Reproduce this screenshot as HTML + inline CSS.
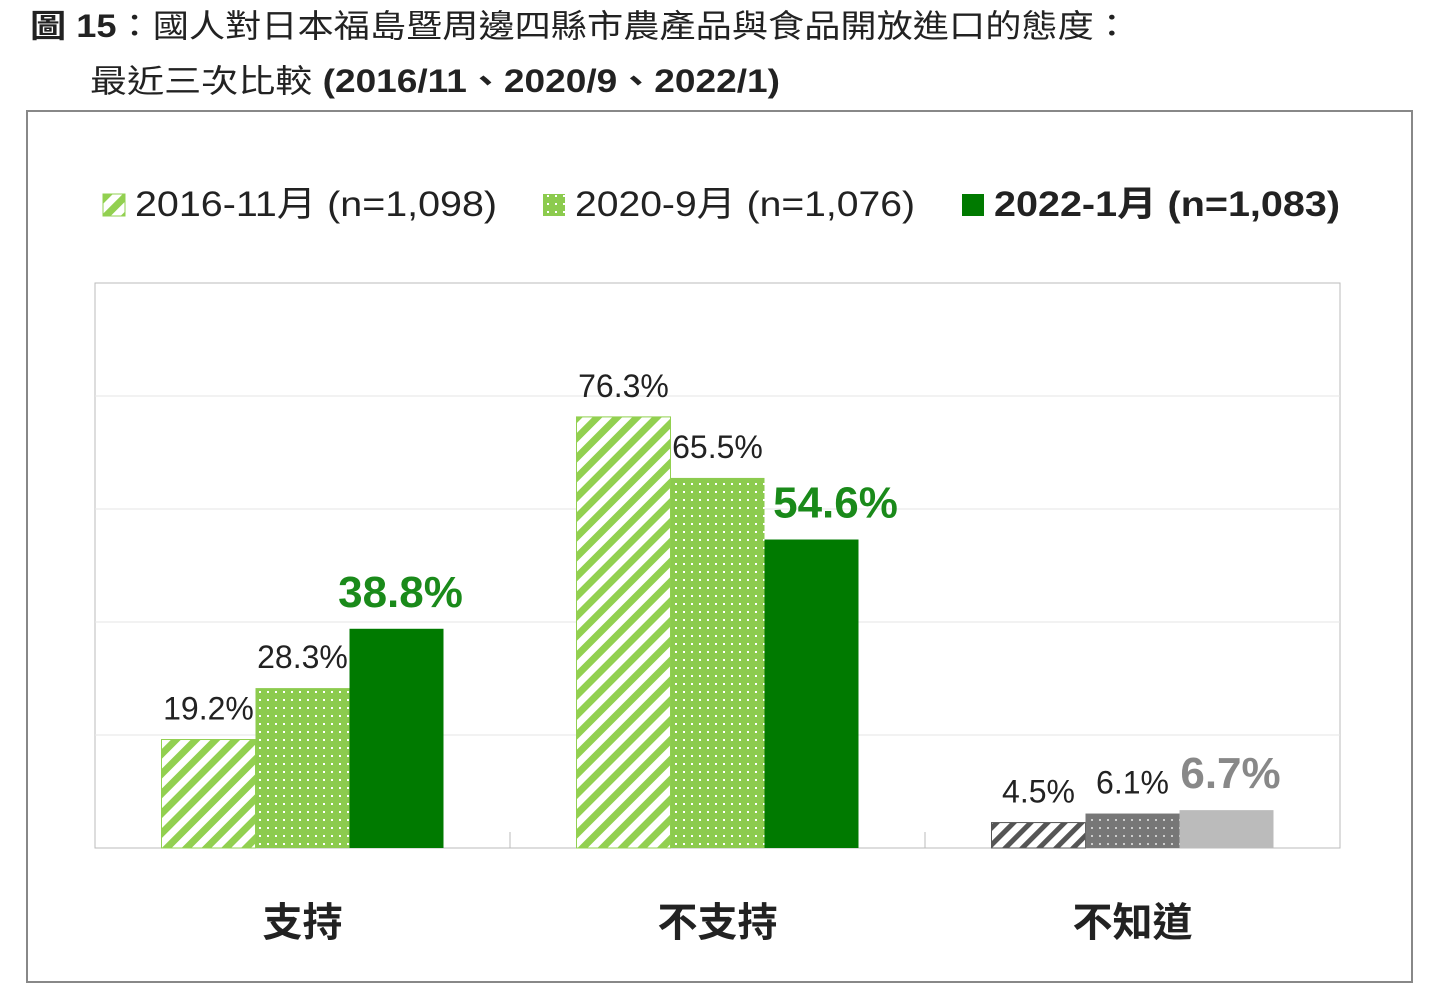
<!DOCTYPE html>
<html><head><meta charset="utf-8"><style>
body{margin:0;background:#fff;width:1434px;height:986px;overflow:hidden;font-family:"Liberation Sans","Noto Sans CJK TC",sans-serif;}
</style></head><body>
<svg width="1434" height="986" xmlns="http://www.w3.org/2000/svg">
<defs>
<pattern id="hg" patternUnits="userSpaceOnUse" width="14" height="14" patternTransform="rotate(45)"><rect width="14" height="14" fill="#fff"/><rect width="7" height="14" fill="#92D050"/></pattern>
<pattern id="dg" patternUnits="userSpaceOnUse" width="8" height="8"><rect width="8" height="8" fill="#8CCB4E"/><rect x="3" y="3" width="2" height="2" fill="#fff"/></pattern>
<pattern id="hk" patternUnits="userSpaceOnUse" width="12" height="12" patternTransform="rotate(45)"><rect width="12" height="12" fill="#fff"/><rect width="5" height="12" fill="#555"/></pattern>
<pattern id="dk" patternUnits="userSpaceOnUse" width="8" height="8"><rect width="8" height="8" fill="#777"/><rect x="3" y="3" width="2" height="2" fill="#ccc"/></pattern>
</defs>
<text x="30" y="37" font-size="32" fill="#222" textLength="1100" lengthAdjust="spacingAndGlyphs"><tspan font-weight="bold">圖 15</tspan>：國人對日本福島暨周邊四縣市農產品與食品開放進口的態度：</text>
<text x="90" y="92" font-size="32" fill="#222" textLength="690" lengthAdjust="spacingAndGlyphs">最近三次比較 <tspan font-weight="bold">(2016/11、2020/9、2022/1)</tspan></text>
<rect x="27" y="111" width="1385" height="871" fill="none" stroke="#888" stroke-width="2"/>
<g>
<rect x="103" y="194" width="22" height="22" fill="url(#hg)" stroke="#92D050"/>
<text x="135" y="216" font-size="35" fill="#222" textLength="362" lengthAdjust="spacingAndGlyphs">2016-11月  (n=1,098)</text>
<rect x="543" y="194" width="22" height="22" fill="url(#dg)"/>
<text x="575" y="216" font-size="35" fill="#222" textLength="340" lengthAdjust="spacingAndGlyphs">2020-9月  (n=1,076)</text>
<rect x="962" y="194" width="22" height="22" fill="#007A00"/>
<text x="994" y="216" font-size="35" font-weight="bold" fill="#222" textLength="346" lengthAdjust="spacingAndGlyphs">2022-1月  (n=1,083)</text>
</g>
<rect x="95" y="283" width="1245" height="565" fill="none" stroke="#bbb"/>
<g id="grid"></g><g id="bars"></g>
</svg>
<script>
const categories=["支持","不支持","不知道"];
const s2016=[19.2,76.3,4.5];
const s2020=[28.3,65.5,6.1];
const s2022=[38.8,54.6,6.7];
const gridTicks=[20,40,60,80];
const NS="http://www.w3.org/2000/svg";
const svg=document.querySelector('svg');
const X0=95,W=1245,Y0=848,H=565;
const y=v=>Y0-v/100*H;
const cw=W/categories.length;
function mk(t,a,p){const e=document.createElementNS(NS,t);for(const k in a)e.setAttribute(k,a[k]);(p||svg).appendChild(e);return e;}
const g=document.getElementById('grid'),b=document.getElementById('bars');
gridTicks.forEach(t=>{const l=mk('line',{x1:X0,x2:X0+W,y1:y(t),y2:y(t),stroke:'#e6e6e6'},g);

});
const series=[s2016,s2020,s2022];
const bw=94;
categories.forEach((c,i)=>{
 const cx=X0+cw*(i+0.5);
 if(i>0){const tk=mk('line',{x1:X0+cw*i,x2:X0+cw*i,y1:Y0-16,y2:Y0,stroke:'#bbb'},g);
 
 }
 const gray=i===2;
 series.forEach((s,j)=>{
  const x=cx-1.5*bw+j*bw, v=s[i];
  const fill=gray?['url(#hk)','url(#dk)','#bbb'][j]:['url(#hg)','url(#dg)','#007A00'][j];
  const r=mk('rect',{x:x,y:y(v),width:bw,height:Y0-y(v),fill:fill,stroke:j===0?(gray?'#555':'#92D050'):'none'},b);
  
  
  const last=j===2;
  let dx=last?4:0;
  if(last && s2020[i]>v+3) dx=24;
  const t=mk('text',{x:x+bw/2+dx,y:y(v)-(last?22:20),'text-anchor':'middle','font-size':last?44:32,'font-weight':last?'bold':'normal',fill:last?(gray?'#888':'#1a8a1a'):'#222'},b);
  t.textContent=v.toFixed(1)+'%';
  
  
 });
 const ct=mk('text',{x:cx,y:936,'text-anchor':'middle','font-size':40,'font-weight':'bold',fill:'#222'},b);
 ct.textContent=c;
 
 
});
</script>
</body></html>
